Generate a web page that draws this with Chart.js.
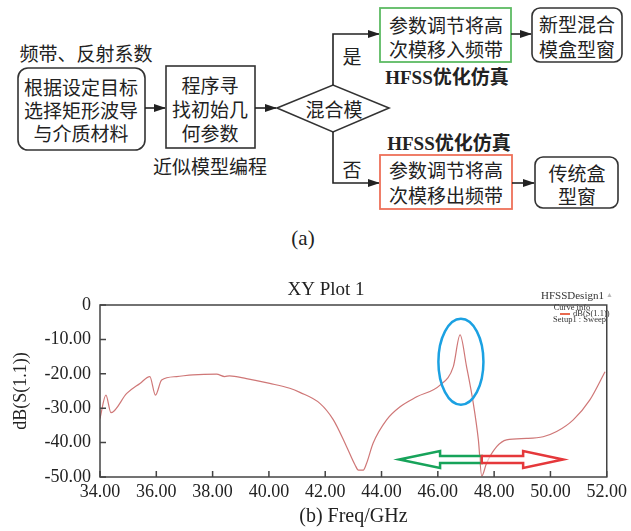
<!DOCTYPE html>
<html>
<head>
<meta charset="utf-8">
<script src="https://cdn.jsdelivr.net/npm/chart.js@4/dist/chart.umd.min.js"></script>
<style>
body { margin:0; background:#fff; width:631px; height:531px; overflow:hidden; position:relative; }
#flow { position:absolute; left:0; top:0; }
#plot { position:absolute; left:0; top:250px; }
.cn { font-family:"Noto Sans CJK SC"; font-size:19px; fill:#222; }
.bx { fill:none; stroke:#333; stroke-width:1.6; }
.ln { fill:none; stroke:#222; stroke-width:1.6; }
.hf { font-family:"Liberation Serif","Noto Sans CJK SC"; font-weight:bold; font-size:19px; fill:#222; }
</style>
</head>
<body>
<svg id="flow" width="631" height="250">
  <defs>
    <marker id="ah" markerWidth="12" markerHeight="8" refX="11" refY="4" orient="auto" markerUnits="userSpaceOnUse">
      <path d="M0,0 L12,4 L0,8 z" fill="#222"/>
    </marker>
  </defs>
  <g text-anchor="middle" dominant-baseline="central">
    <text class="cn" x="86" y="52">频带、反射系数</text>
    <rect class="bx" x="18" y="68" width="127" height="82" rx="10"/>
    <text class="cn" x="81" y="86">根据设定目标</text>
    <text class="cn" x="81" y="109">选择矩形波导</text>
    <text class="cn" x="81" y="132">与介质材料</text>
    <line class="ln" x1="145" y1="108" x2="165" y2="108" marker-end="url(#ah)"/>
    <rect class="bx" x="166" y="66" width="89" height="82"/>
    <text class="cn" x="210" y="84">程序寻</text>
    <text class="cn" x="210" y="108">找初始几</text>
    <text class="cn" x="210" y="132">何参数</text>
    <text class="cn" x="210" y="165">近似模型编程</text>
    <line class="ln" x1="255" y1="108" x2="276" y2="108" marker-end="url(#ah)"/>
    <polygon class="bx" points="277,108 333,85 389,108 333,132"/>
    <text class="cn" x="334" y="108">混合模</text>
    <polyline class="ln" points="333,85 333,34 379,34" marker-end="url(#ah)"/>
    <text class="cn" x="352" y="55">是</text>
    <rect x="380" y="8" width="131" height="54" fill="none" stroke="#5dbb63" stroke-width="1.8"/>
    <text class="cn" x="446" y="24">参数调节将高</text>
    <text class="cn" x="446" y="48">次模移入频带</text>
    <text class="hf" x="447" y="77">HFSS优化仿真</text>
    <line class="ln" x1="511" y1="34" x2="531" y2="34" marker-end="url(#ah)"/>
    <rect class="bx" x="532" y="8" width="90" height="54" rx="8"/>
    <text class="cn" x="577" y="23">新型混合</text>
    <text class="cn" x="577" y="48">模盒型窗</text>
    <polyline class="ln" points="333,132 333,183 379,183" marker-end="url(#ah)"/>
    <text class="cn" x="352" y="168">否</text>
    <text class="hf" x="449" y="143">HFSS优化仿真</text>
    <rect x="380" y="155" width="132" height="54" fill="none" stroke="#ee7059" stroke-width="1.8"/>
    <text class="cn" x="446" y="169">参数调节将高</text>
    <text class="cn" x="446" y="194">次模移出频带</text>
    <line class="ln" x1="512" y1="183" x2="534" y2="183" marker-end="url(#ah)"/>
    <rect class="bx" x="535" y="157" width="83" height="51" rx="8"/>
    <text class="cn" x="577" y="172">传统盒</text>
    <text class="cn" x="577" y="195">型窗</text>
    <text x="303" y="238" font-family="Liberation Serif" font-size="21" fill="#222">(a)</text>
  </g>
</svg>
<canvas id="plot" width="631" height="281"></canvas>
<script>
// S11 sweep
var freqGHz = [34.00, 34.21, 34.39, 34.95, 35.42, 35.77, 35.97, 36.19, 36.72, 37.30,
  38.14, 38.43, 38.60, 39.20, 40.03, 40.74, 41.10, 41.81, 42.29, 42.76,
  43.06, 43.18, 43.35, 43.47, 43.70, 44.18, 44.66, 45.25, 46.08, 46.55,
  46.79, 47.02, 47.26, 47.44, 47.56, 47.73, 48.09, 48.44, 49.15, 49.74,
  50.22, 50.81, 51.40, 51.94];
var s11dB = [-33.0, -26.2, -31.3, -25.7, -22.8, -20.8, -26.2, -21.8, -20.8, -20.3,
  -20.1, -20.8, -20.6, -21.4, -22.8, -24.2, -25.4, -28.6, -33.4, -41.2,
  -46.5, -48.0, -48.0, -46.0, -40.2, -33.4, -29.6, -26.7, -23.3, -17.9,
  -8.7, -17.9, -28.6, -39.2, -49.7, -46.0, -41.2, -39.2, -38.8, -38.3,
  -36.8, -33.4, -27.6, -19.4];

// annotations, in data units
var ellipseCenter = [46.82, -16.5];
var ellipseRadius = [0.8, 12.5];
var greenArrow = [47.56, 46.08, 44.63]; // base, head start, tip
var redArrow = [47.56, 49.03, 50.45];
var arrowLevel = -44.9;

var serif = 'Liberation Serif';

function drawArrow(ctx, xs, y, color) {
  var b = xs[0], h = xs[1], t = xs[2];
  ctx.beginPath();
  ctx.moveTo(t, y);
  ctx.lineTo(h, y - 8.5);
  ctx.lineTo(h, y - 3.5);
  ctx.lineTo(b, y - 3.5);
  ctx.lineTo(b, y + 3.5);
  ctx.lineTo(h, y + 3.5);
  ctx.lineTo(h, y + 8.5);
  ctx.closePath();
  ctx.fillStyle = 'rgba(255,255,255,0.6)';
  ctx.fill();
  ctx.strokeStyle = color;
  ctx.lineWidth = 2.5;
  ctx.stroke();
}

var extras = {
  id: 'extras',
  afterDraw: function(chart) {
    var ctx = chart.ctx, a = chart.chartArea;
    var xs = chart.scales.x, ys = chart.scales.y;
    ctx.save();
    // frame
    ctx.strokeStyle = '#444';
    ctx.lineWidth = 1.5;
    ctx.strokeRect(a.left, a.top, a.right - a.left, a.bottom - a.top);
    // inside ticks
    ctx.beginPath();
    xs.ticks.forEach(function(t) {
      var px = xs.getPixelForValue(t.value);
      ctx.moveTo(px, a.bottom); ctx.lineTo(px, a.bottom - 6);
    });
    ys.ticks.forEach(function(t) {
      var py = ys.getPixelForValue(t.value);
      ctx.moveTo(a.left, py); ctx.lineTo(a.left + 6, py);
    });
    ctx.stroke();

    // title
    ctx.fillStyle = '#222';
    ctx.textAlign = 'center';
    ctx.textBaseline = 'middle';
    ctx.font = '19px ' + serif;
    ctx.fillText('XY Plot 1', 326, 40);

    // HFSS legend
    ctx.font = '11px ' + serif;
    ctx.textAlign = 'left';
    ctx.fillStyle = '#333';
    ctx.fillText('HFSSDesign1', 541, 46);
    ctx.fillStyle = '#bbb';
    ctx.font = '7px ' + serif;
    ctx.fillText('\u25B2', 606, 45);
    ctx.fillStyle = '#333';
    ctx.font = '8.5px ' + serif;
    ctx.textAlign = 'center';
    ctx.fillText('Curve info', 572, 58);
    ctx.textAlign = 'left';
    ctx.fillText('dB(S(1.1))', 573, 64);
    ctx.textAlign = 'right';
    ctx.fillText('Setup1 : Sweep', 606, 70);
    ctx.strokeStyle = '#e8694e';
    ctx.lineWidth = 2;
    ctx.beginPath();
    ctx.moveTo(560, 64); ctx.lineTo(570, 64);
    ctx.stroke();

    // blue ellipse
    var cx = xs.getPixelForValue(ellipseCenter[0]);
    var cy = ys.getPixelForValue(ellipseCenter[1]);
    var rx = xs.getPixelForValue(ellipseCenter[0] + ellipseRadius[0]) - cx;
    var ry = ys.getPixelForValue(ellipseCenter[1] - ellipseRadius[1]) - cy;
    ctx.strokeStyle = '#1ba1e2';
    ctx.lineWidth = 2.5;
    ctx.beginPath();
    ctx.ellipse(cx, cy, rx, ry, 0, 0, Math.PI * 2);
    ctx.stroke();

    // arrows
    var ay = ys.getPixelForValue(arrowLevel);
    drawArrow(ctx, greenArrow.map(function(v) { return xs.getPixelForValue(v); }), ay, '#17a35a');
    drawArrow(ctx, redArrow.map(function(v) { return xs.getPixelForValue(v); }), ay, '#e5383b');
    ctx.restore();
  }
};

var ctx = document.getElementById('plot').getContext('2d');
var myChart = new Chart(ctx, {
  type: 'line',
  data: {
    datasets: [{
      label: 'dB(S(1.1))',
      data: freqGHz.map(function(f, i) { return { x: f, y: s11dB[i] }; }),
      borderColor: '#cf7777',
      borderWidth: 1.2,
      pointRadius: 0,
      cubicInterpolationMode: 'monotone'
    }]
  },
  options: {
    responsive: false,
    animation: false,
    layout: { padding: { top: 55, right: 24, bottom: 0, left: 0 } },
    plugins: { legend: { display: false }, tooltip: { enabled: false } },
    scales: {
      x: {
        type: 'linear', min: 34, max: 52,
        ticks: { stepSize: 2, autoSkip: false, maxRotation: 0, padding: 4, color: '#222',
          font: { family: serif, size: 18 },
          callback: function(v) { return v.toFixed(2); } },
        grid: { display: false, drawTicks: false },
        border: { display: false },
        title: { display: true, text: '(b) Freq/GHz', color: '#222',
          font: { family: serif, size: 20 }, padding: { top: 0, bottom: 2 } },
        afterFit: function(s) { s.height = 54; }
      },
      y: {
        min: -50, max: 0,
        ticks: { stepSize: 10, padding: 9, color: '#222',
          font: { family: serif, size: 18 },
          callback: function(v) { return v === 0 ? '0' : v.toFixed(2); } },
        grid: { display: false, drawTicks: false },
        border: { display: false },
        title: { display: true, text: 'dB(S(1.1))', color: '#222',
          font: { family: serif, size: 18 }, padding: { top: 10, bottom: 0 } },
        afterFit: function(s) { s.width = 100; }
      }
    }
  },
  plugins: [extras]
});
</script>
</body>
</html>
